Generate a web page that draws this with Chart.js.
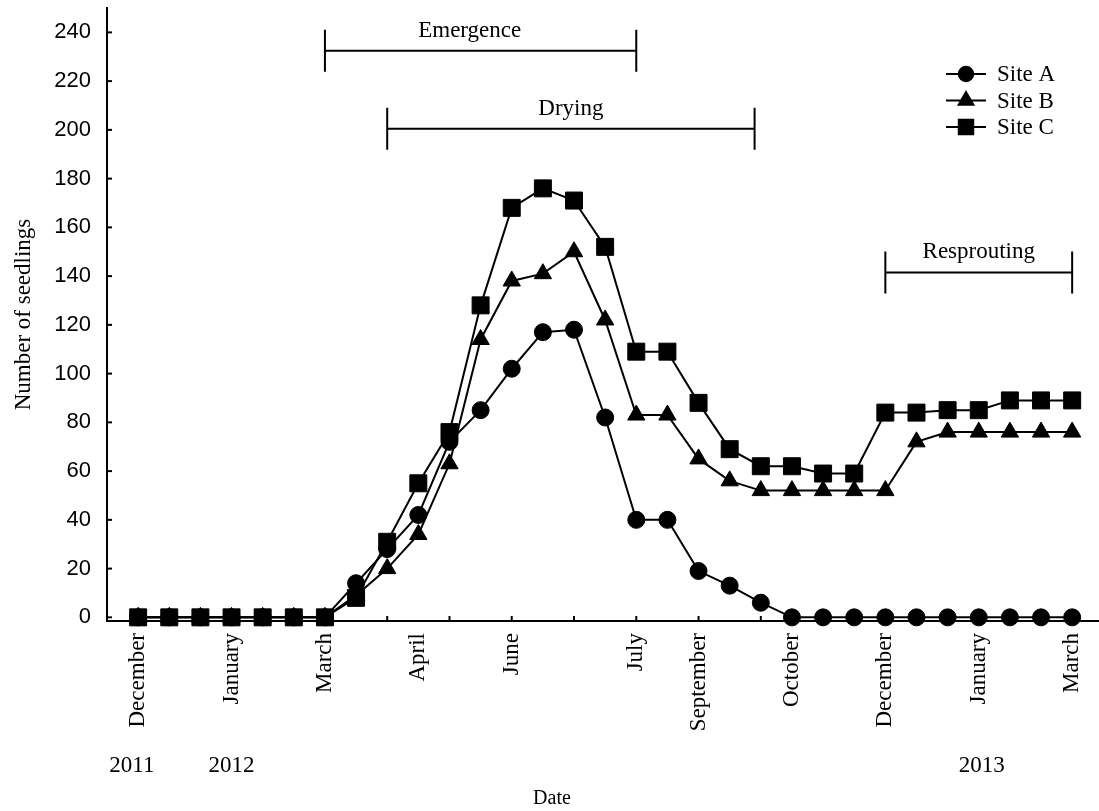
<!DOCTYPE html>
<html>
<head>
<meta charset="utf-8">
<script src="https://cdn.jsdelivr.net/npm/chart.js@4"></script>
<style>
  body { margin: 0; background: #fff; }
</style>
</head>
<body>
<canvas id="seedlingChart" width="1099" height="811"></canvas>
<script>
// sampling dates, one point each (Dec 2011 - Mar 2013)
const sampleIdx = [0,1,2,3,4,5,6,7,8,9,10,11,12,13,14,15,16,17,18,19,20,21,22,23,24,25,26,27,28,29,30];

const siteA = [0,0,0,0,0,0,0,14,28,42,72,85,102,117,118,82,40,40,19,13,6,0,0,0,0,0,0,0,0,0,0];
const siteB = [0,0,0,0,0,0,0,9,20,34,63,114,138,141,150,122,83,83,65,56,52,52,52,52,52,72,76,76,76,76,76];
const siteC = [0,0,0,0,0,0,0,8,31,55,76,128,168,176,171,152,109,109,88,69,62,62,59,59,84,84,85,85,89,89,89];

// month labels on the x axis
const monthIdx = [0,3,6,9,12,16,18,21,24,27,30];
const monthNames = ['December','January','March','April','June','July','September','October','December','January','March'];
const minorTickIdx = [0,2,4,6,8,10,12,14,16,18,20,22,24,26,28,30];

const yearNames = ['2011','2012','2013'];
const yearIdx = [-0.2, 3, 27.1];

const yTicks = [0,20,40,60,80,100,120,140,160,180,200,220,240];

// phase brackets
const phaseNames = ['Emergence','Drying','Resprouting'];
const phaseStart = [6, 8, 24];
const phaseEnd = [16, 19.8, 30];
const phaseLevel = [232.5, 200.5, 141.5];
const phaseLabelAt = [10.65, 13.9, 27];

const serif = 'Liberation Serif';

function pts(arr) {
    return arr.map((v, i) => ({ x: sampleIdx[i], y: v }));
}

// extra drawing: inward ticks, brackets, legend, years
const decor = {
    id: 'decor',
    beforeDatasetsDraw(chart) {
        const ctx = chart.ctx;
        const xs = chart.scales.x, ys = chart.scales.y;
        ctx.save();
        ctx.strokeStyle = '#000';
        ctx.lineWidth = 2;
        minorTickIdx.forEach(i => {
            const px = xs.getPixelForValue(i);
            ctx.beginPath();
            ctx.moveTo(px, ys.bottom);
            ctx.lineTo(px, ys.bottom - 5);
            ctx.stroke();
        });
        yTicks.forEach(v => {
            const py = ys.getPixelForValue(v);
            ctx.beginPath();
            ctx.moveTo(xs.left, py);
            ctx.lineTo(xs.left + 5, py);
            ctx.stroke();
        });
        ctx.restore();
    },
    afterDraw(chart) {
        const ctx = chart.ctx;
        const xs = chart.scales.x, ys = chart.scales.y;
        ctx.save();
        ctx.strokeStyle = '#000';
        ctx.fillStyle = '#000';
        ctx.lineWidth = 2;
        ctx.font = '23px ' + serif;

        // brackets
        phaseNames.forEach((name, i) => {
            const x1 = xs.getPixelForValue(phaseStart[i]);
            const x2 = xs.getPixelForValue(phaseEnd[i]);
            const y = ys.getPixelForValue(phaseLevel[i]);
            ctx.beginPath();
            ctx.moveTo(x1, y); ctx.lineTo(x2, y);
            ctx.moveTo(x1, y - 21); ctx.lineTo(x1, y + 21);
            ctx.moveTo(x2, y - 21); ctx.lineTo(x2, y + 21);
            ctx.stroke();
            ctx.textAlign = 'center';
            ctx.textBaseline = 'alphabetic';
            ctx.fillText(name, xs.getPixelForValue(phaseLabelAt[i]), y - 14);
        });

        // legend
        chart.data.datasets.forEach((ds, i) => {
            const y = 74 + i * 26.5;
            ctx.beginPath();
            ctx.moveTo(946, y); ctx.lineTo(986, y);
            ctx.stroke();
            Chart.helpers.drawPoint(ctx, {
                pointStyle: ds.pointStyle, rotation: 0,
                radius: ds.pointRadius * 0.85, borderWidth: 1
            }, 966, y);
            ctx.textAlign = 'left';
            ctx.textBaseline = 'middle';
            ctx.fillText(ds.label, 997, y + 1);
        });

        // years and axis title
        ctx.textAlign = 'center';
        ctx.textBaseline = 'middle';
        yearNames.forEach((t, i) => {
            ctx.fillText(t, xs.getPixelForValue(yearIdx[i]), 766);
        });
        ctx.font = '20px ' + serif;
        ctx.fillText('Date', 552, 799);
        ctx.restore();
    }
};

const ctx = document.getElementById('seedlingChart').getContext('2d');
const seedlingChart = new Chart(ctx, {
    type: 'line',
    data: {
        datasets: [
            { label: 'Site A', data: pts(siteA), pointStyle: 'circle', pointRadius: 8.5, order: 3 },
            { label: 'Site B', data: pts(siteB), pointStyle: 'triangle', pointRadius: 10, order: 2 },
            { label: 'Site C', data: pts(siteC), pointStyle: 'rect', pointRadius: 12, order: 1 }
        ].map(d => Object.assign(d, {
            borderColor: '#000',
            backgroundColor: '#000',
            borderWidth: 2,
            pointBorderWidth: 1,
            tension: 0,
            clip: false
        }))
    },
    options: {
        responsive: false,
        animation: false,
        events: [],
        layout: { autoPadding: false, padding: { top: 8, right: 1, left: 0, bottom: 0 } },
        plugins: {
            legend: { display: false },
            tooltip: { enabled: false }
        },
        scales: {
            x: {
                type: 'linear',
                min: -1,
                max: 30.83,
                afterBuildTicks: s => { s.ticks = monthIdx.map(v => ({ value: v })); },
                afterFit: s => { s.height = 190; s.paddingLeft = 0; s.paddingRight = 0; },
                grid: { display: false, drawTicks: false },
                border: { display: true, color: '#000', width: 2 },
                ticks: {
                    autoSkip: false,
                    minRotation: 90,
                    maxRotation: 90,
                    padding: 12,
                    color: '#000',
                    font: { family: serif, size: 23 },
                    callback: v => monthNames[monthIdx.indexOf(v)]
                }
            },
            y: {
                min: -1.5,
                max: 250,
                afterBuildTicks: s => { s.ticks = yTicks.map(v => ({ value: v })); },
                afterFit: s => { s.width = 107; s.paddingTop = 0; s.paddingBottom = 0; },
                grid: { display: false, drawTicks: false },
                border: { display: true, color: '#000', width: 2 },
                ticks: {
                    padding: 16,
                    color: '#000',
                    font: { family: 'Liberation Sans', size: 22 }
                },
                title: {
                    display: true,
                    text: 'Number of seedlings',
                    color: '#000',
                    font: { family: serif, size: 23 },
                    padding: { top: 10, bottom: 0 }
                }
            }
        }
    },
    plugins: [decor]
});
</script>
</body>
</html>
